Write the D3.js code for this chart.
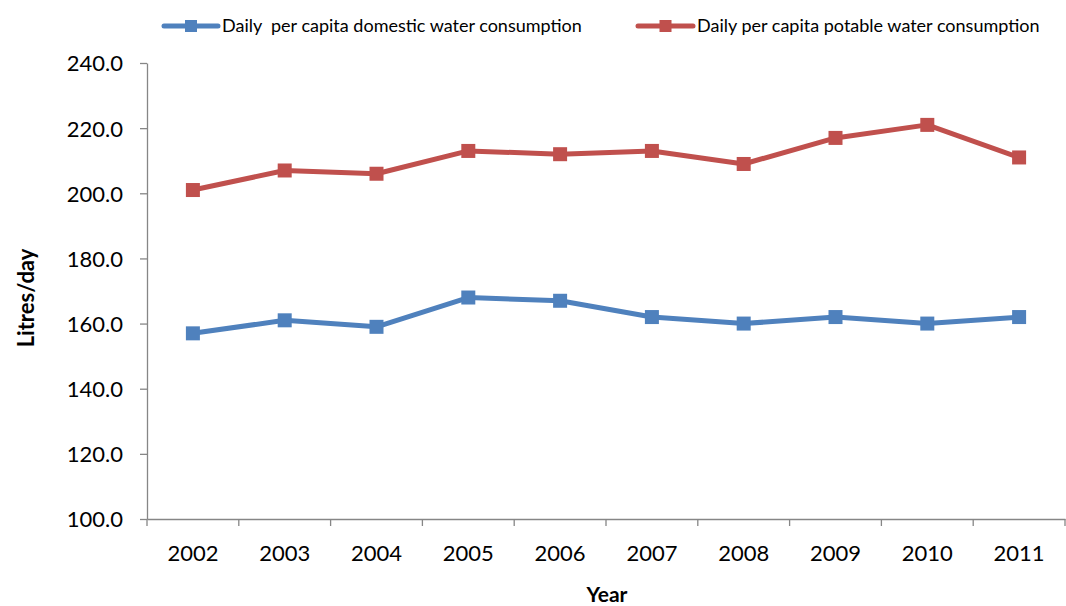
<!DOCTYPE html>
<html><head><meta charset="utf-8">
<script src="https://cdn.jsdelivr.net/npm/d3@7"></script>
<style>body{margin:0;background:#fff}svg{display:block}text{font-family:Lato,"Open Sans",sans-serif}</style>
</head><body><svg id="c" width="1066" height="606"></svg>
<script>
const years = ["2002","2003","2004","2005","2006","2007","2008","2009","2010","2011"];
const domestic = [157,161,159,168,167,162,160,162,160,162];
const potable = [201,207,206,213,212,213,209,217,221,211];
const yTicks = [100,120,140,160,180,200,220,240];
const seriesNames = ["Daily  per capita domestic water consumption","Daily per capita potable water consumption"];
const colors = ["#4F81BD","#C0504D"];

const svg = d3.select("#c");
const L=147,R=1065,T=63,B=519;
const x = d3.scaleBand().domain(years).range([L,R]).padding(0);
const y = d3.scaleLinear().domain([100,240]).range([B,T]);

// y axis
const ya = svg.append("g").attr("transform",`translate(${L},0)`)
  .call(d3.axisLeft(y).tickValues(yTicks).tickFormat(d3.format(".1f")).tickSize(7).tickSizeOuter(0));
ya.select(".domain").attr("stroke","#868686").attr("stroke-width",1.3);
ya.selectAll(".tick line").attr("stroke","#868686").attr("stroke-width",1.3);
ya.selectAll("text").attr("font-size",22).attr("fill","#000").attr("x",-24).attr("dy","0.36em");

// x axis
const xa = svg.append("g").attr("transform",`translate(0,${B})`)
  .call(d3.axisBottom(x).tickSize(0).tickSizeOuter(0));
xa.select(".domain").attr("stroke","#868686").attr("stroke-width",1.3);
xa.selectAll("text").attr("font-size",22).attr("fill","#000").attr("dy","0").attr("y",42);
const bounds = [L].concat(years.map(d=>x(d)+x.bandwidth()));
svg.append("g").selectAll("line").data(bounds).join("line")
  .attr("x1",d=>d).attr("x2",d=>d).attr("y1",B).attr("y2",B+7)
  .attr("stroke","#868686").attr("stroke-width",1.3);

// titles
svg.append("text").attr("transform","translate(34,298) rotate(-90)").attr("text-anchor","middle")
  .attr("font-size",22).attr("font-weight","bold").text("Litres/day");
svg.append("text").attr("x",607).attr("y",602).attr("text-anchor","middle")
  .attr("font-size",21).attr("font-weight","bold").text("Year");

// lines
const data=[domestic,potable];
const line = d3.line().x((d,i)=>x(years[i])+x.bandwidth()/2).y(d=>y(d));
data.forEach((s,k)=>{
  svg.append("path").datum(s).attr("d",line).attr("fill","none")
    .attr("stroke",colors[k]).attr("stroke-width",5).attr("stroke-linejoin","round");
  svg.append("g").selectAll("rect").data(s).join("rect")
    .attr("x",(d,i)=>x(years[i])+x.bandwidth()/2-7).attr("y",d=>y(d)-7)
    .attr("width",14).attr("height",14).attr("fill",colors[k]);
});

// legend
const lg=[{x1:164,x2:218,tx:222},{x1:638,x2:693,tx:697}];
lg.forEach((p,k)=>{
  svg.append("line").attr("x1",p.x1).attr("x2",p.x2).attr("y1",26).attr("y2",26)
    .attr("stroke",colors[k]).attr("stroke-width",5).attr("stroke-linecap","round");
  svg.append("rect").attr("x",(p.x1+p.x2)/2-6).attr("y",20).attr("width",12).attr("height",12).attr("fill",colors[k]);
  svg.append("text").attr("x",p.tx).attr("y",32).attr("font-size",18).attr("xml:space","preserve")
    .style("white-space","pre").text(seriesNames[k]);
});
</script></body></html>
